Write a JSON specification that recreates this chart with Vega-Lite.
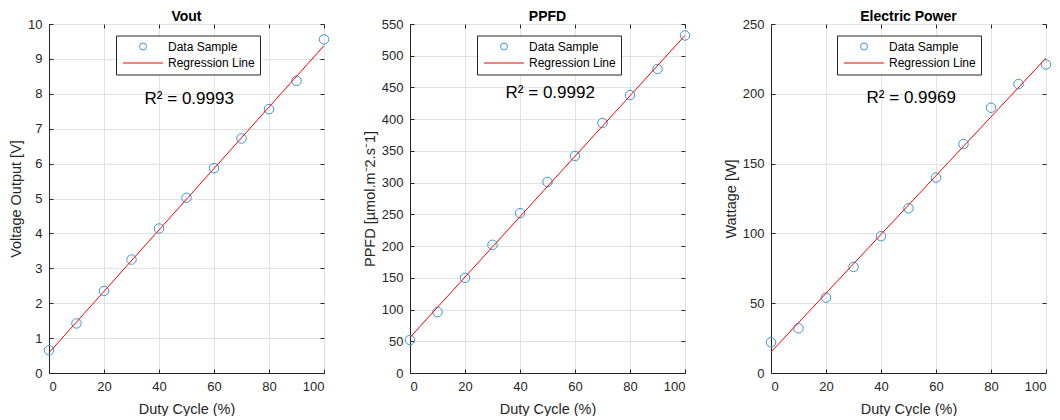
{
  "$schema": "https://vega.github.io/schema/vega-lite/v6.json",
  "background": "white",
  "padding": {"left": 8, "top": 9, "right": 5, "bottom": 0},
  "config": {
    "font": "Liberation Sans",
    "view": {"stroke": "#262626", "strokeWidth": 1},
    "axis": {
      "labelFontSize": 13, "titleFontSize": 14.5, "titleFontWeight": "normal",
      "labelColor": "#262626", "titleColor": "#262626",
      "domainColor": "#262626", "tickColor": "#262626",
      "gridColor": "#E2E2E2", "tickSize": -4, "labelPadding": 11, "titlePadding": 9
    },
    "axisY": {"titlePadding": 4},
    "title": {"fontSize": 14, "fontWeight": "bold", "color": "#000000", "offset": -6, "frame": "group"},
    "legend": {
      "orient": "none", "title": null, "strokeColor": "#262626", "fillColor": "white",
      "padding": 5, "labelFontSize": 12, "labelColor": "#000000", "symbolSize": 49,
      "symbolOffset": 16, "labelOffset": 19, "rowPadding": 4.5, "symbolStrokeWidth": 1
    }
  },
  "datasets": {
    "vout": [
      {"duty": 0, "val": 0.65}, {"duty": 10, "val": 1.42}, {"duty": 20, "val": 2.35}, {"duty": 30, "val": 3.25},
      {"duty": 40, "val": 4.14}, {"duty": 50, "val": 5.02}, {"duty": 60, "val": 5.87}, {"duty": 70, "val": 6.72},
      {"duty": 80, "val": 7.56}, {"duty": 90, "val": 8.37}, {"duty": 100, "val": 9.56}
    ],
    "voutLine": [{"duty": 0, "val": 0.58}, {"duty": 100, "val": 9.38}],
    "ppfd": [
      {"duty": 0, "val": 52}, {"duty": 10, "val": 96}, {"duty": 20, "val": 150}, {"duty": 30, "val": 202},
      {"duty": 40, "val": 252}, {"duty": 50, "val": 301}, {"duty": 60, "val": 342}, {"duty": 70, "val": 394},
      {"duty": 80, "val": 438}, {"duty": 90, "val": 479}, {"duty": 100, "val": 532}
    ],
    "ppfdLine": [{"duty": 0, "val": 56}, {"duty": 100, "val": 532}],
    "power": [
      {"duty": 0, "val": 22}, {"duty": 10, "val": 32}, {"duty": 20, "val": 54}, {"duty": 30, "val": 76},
      {"duty": 40, "val": 98}, {"duty": 50, "val": 118}, {"duty": 60, "val": 140}, {"duty": 70, "val": 164},
      {"duty": 80, "val": 190}, {"duty": 90, "val": 207}, {"duty": 100, "val": 221}
    ],
    "powerLine": [{"duty": 0, "val": 15}, {"duty": 100, "val": 225.6}],
    "r2vout": [{"duty": 51, "val": 7.85, "label": "R² = 0.9993"}],
    "r2ppfd": [{"duty": 51, "val": 442, "label": "R² = 0.9992"}],
    "r2power": [{"duty": 51, "val": 197, "label": "R² = 0.9969"}]
  },
  "bounds": "flush",
  "spacing": 86,
  "resolve": {"scale": {"color": "independent", "shape": "independent", "x": "independent", "y": "independent"}, "legend": {"color": "independent", "shape": "independent"}},
  "hconcat": [
    {
      "width": 275, "height": 349, "title": "Vout",
      "resolve": {"axis": {"x": "independent", "y": "independent"}},
      "layer": [
        {"data": {"name": "vout"}, "mark": {"type": "point", "filled": false, "size": 90, "strokeWidth": 1, "opacity": 1},
         "encoding": {
           "x": {"field": "duty", "type": "quantitative", "scale": {"domain": [0, 100], "nice": false}, "axis": {"values": [0, 20, 40, 60, 80, 100], "title": "Duty Cycle (%)"}},
           "y": {"field": "val", "type": "quantitative", "scale": {"domain": [0, 10], "nice": false}, "axis": {"values": [0, 1, 2, 3, 4, 5, 6, 7, 8, 9, 10], "title": "Voltage Output [V]"}},
           "color": {"datum": "Data Sample", "type": "nominal",
             "scale": {"domain": ["Data Sample", "Regression Line"], "range": ["#3A95D8", "#FF0000"]},
             "legend": {"legendX": 67, "legendY": 11.5, "encode": {"symbols": {"fill": {"value": "transparent"}}}}},
           "shape": {"datum": "Data Sample", "type": "nominal",
             "scale": {"domain": ["Data Sample", "Regression Line"], "range": ["circle", "M-5.7,0L5.7,0"]},
             "legend": {"legendX": 67, "legendY": 11.5, "encode": {"symbols": {"fill": {"value": "transparent"}}}}}}},
        {"data": {"name": "voutLine"}, "mark": {"type": "line", "strokeWidth": 1},
         "encoding": {
           "x": {"field": "duty", "type": "quantitative", "axis": null},
           "y": {"field": "val", "type": "quantitative", "axis": null},
           "color": {"datum": "Regression Line", "type": "nominal"}}},
        {"data": {"name": "r2vout"}, "mark": {"type": "text", "fontSize": 17, "color": "#000000"},
         "encoding": {
           "x": {"field": "duty", "type": "quantitative", "axis": {"orient": "top", "values": [0, 20, 40, 60, 80, 100], "labels": false, "title": null, "grid": false, "domain": false}},
           "y": {"field": "val", "type": "quantitative", "axis": {"orient": "right", "values": [0, 1, 2, 3, 4, 5, 6, 7, 8, 9, 10], "labels": false, "title": null, "grid": false, "domain": false}},
           "text": {"field": "label"}}}
      ]
    },
    {
      "width": 275, "height": 349, "title": "PPFD",
      "resolve": {"axis": {"x": "independent", "y": "independent"}},
      "layer": [
        {"data": {"name": "ppfd"}, "mark": {"type": "point", "filled": false, "size": 90, "strokeWidth": 1, "opacity": 1},
         "encoding": {
           "x": {"field": "duty", "type": "quantitative", "scale": {"domain": [0, 100], "nice": false}, "axis": {"values": [0, 20, 40, 60, 80, 100], "title": "Duty Cycle (%)"}},
           "y": {"field": "val", "type": "quantitative", "scale": {"domain": [0, 550], "nice": false}, "axis": {"values": [0, 50, 100, 150, 200, 250, 300, 350, 400, 450, 500, 550], "title": "PPFD [µmol.m⁻2.s⁻1]"}},
           "color": {"datum": "Data Sample", "type": "nominal",
             "scale": {"domain": ["Data Sample", "Regression Line"], "range": ["#3A95D8", "#FF0000"]},
             "legend": {"legendX": 67, "legendY": 11.5, "encode": {"symbols": {"fill": {"value": "transparent"}}}}},
           "shape": {"datum": "Data Sample", "type": "nominal",
             "scale": {"domain": ["Data Sample", "Regression Line"], "range": ["circle", "M-5.7,0L5.7,0"]},
             "legend": {"legendX": 67, "legendY": 11.5, "encode": {"symbols": {"fill": {"value": "transparent"}}}}}}},
        {"data": {"name": "ppfdLine"}, "mark": {"type": "line", "strokeWidth": 1},
         "encoding": {
           "x": {"field": "duty", "type": "quantitative", "axis": null},
           "y": {"field": "val", "type": "quantitative", "axis": null},
           "color": {"datum": "Regression Line", "type": "nominal"}}},
        {"data": {"name": "r2ppfd"}, "mark": {"type": "text", "fontSize": 17, "color": "#000000"},
         "encoding": {
           "x": {"field": "duty", "type": "quantitative", "axis": {"orient": "top", "values": [0, 20, 40, 60, 80, 100], "labels": false, "title": null, "grid": false, "domain": false}},
           "y": {"field": "val", "type": "quantitative", "axis": {"orient": "right", "values": [0, 50, 100, 150, 200, 250, 300, 350, 400, 450, 500, 550], "labels": false, "title": null, "grid": false, "domain": false}},
           "text": {"field": "label"}}}
      ]
    },
    {
      "width": 275, "height": 349, "title": "Electric Power",
      "resolve": {"axis": {"x": "independent", "y": "independent"}},
      "layer": [
        {"data": {"name": "power"}, "mark": {"type": "point", "filled": false, "size": 90, "strokeWidth": 1, "opacity": 1},
         "encoding": {
           "x": {"field": "duty", "type": "quantitative", "scale": {"domain": [0, 100], "nice": false}, "axis": {"values": [0, 20, 40, 60, 80, 100], "title": "Duty Cycle (%)"}},
           "y": {"field": "val", "type": "quantitative", "scale": {"domain": [0, 250], "nice": false}, "axis": {"values": [0, 50, 100, 150, 200, 250], "title": "Wattage [W]"}},
           "color": {"datum": "Data Sample", "type": "nominal",
             "scale": {"domain": ["Data Sample", "Regression Line"], "range": ["#3A95D8", "#FF0000"]},
             "legend": {"legendX": 66, "legendY": 11.5, "encode": {"symbols": {"fill": {"value": "transparent"}}}}},
           "shape": {"datum": "Data Sample", "type": "nominal",
             "scale": {"domain": ["Data Sample", "Regression Line"], "range": ["circle", "M-5.7,0L5.7,0"]},
             "legend": {"legendX": 66, "legendY": 11.5, "encode": {"symbols": {"fill": {"value": "transparent"}}}}}}},
        {"data": {"name": "powerLine"}, "mark": {"type": "line", "strokeWidth": 1},
         "encoding": {
           "x": {"field": "duty", "type": "quantitative", "axis": null},
           "y": {"field": "val", "type": "quantitative", "axis": null},
           "color": {"datum": "Regression Line", "type": "nominal"}}},
        {"data": {"name": "r2power"}, "mark": {"type": "text", "fontSize": 17, "color": "#000000"},
         "encoding": {
           "x": {"field": "duty", "type": "quantitative", "axis": {"orient": "top", "values": [0, 20, 40, 60, 80, 100], "labels": false, "title": null, "grid": false, "domain": false}},
           "y": {"field": "val", "type": "quantitative", "axis": {"orient": "right", "values": [0, 50, 100, 150, 200, 250], "labels": false, "title": null, "grid": false, "domain": false}},
           "text": {"field": "label"}}}
      ]
    }
  ]
}
